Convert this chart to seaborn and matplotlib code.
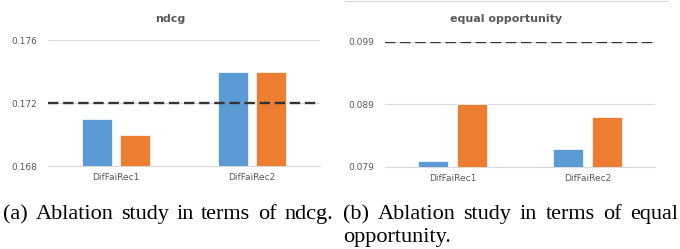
import pandas as pd
import matplotlib.pyplot as plt
import seaborn as sns

# values
models = ["DifFaiRec1", "DifFaiRec2"]
variants = ["variant 1", "variant 2"]
ndcg_v1 = [0.171, 0.174]
ndcg_v2 = [0.170, 0.174]
ndcg_ref = 0.172
eo_v1 = [0.0799, 0.0819]
eo_v2 = [0.089, 0.087]
eo_ref = 0.099
ndcg_ticks = [0.168, 0.172, 0.176]
eo_ticks = [0.079, 0.089, 0.099]

colors = ["#5B9BD5", "#ED7D31"]
grey = "#595959"

df_ndcg = pd.DataFrame({
    "model": models * 2,
    "variant": [variants[0]] * 2 + [variants[1]] * 2,
    "value": ndcg_v1 + ndcg_v2,
})
df_eo = pd.DataFrame({
    "model": models * 2,
    "variant": [variants[0]] * 2 + [variants[1]] * 2,
    "value": eo_v1 + eo_v2,
})

sns.set_style("white")
fig = plt.figure(figsize=(6.8, 2.49), dpi=100)
ax1 = fig.add_axes([48 / 680, 83 / 249, 272 / 680, 126 / 249])
ax2 = fig.add_axes([385 / 680, 82.3 / 249, 270 / 680, 125 / 249])


def draw(ax, df, ref, ticks):
    sns.barplot(data=df, x="model", y="value", hue="variant", palette=colors,
                saturation=1, width=0.57, gap=0.22, ax=ax, legend=False,
                edgecolor="white", linewidth=0.5, zorder=3)
    ax.axhline(ref, color="#333333", lw=1.7, dashes=(4.4, 2.0), zorder=4)
    ax.set_ylim(ticks[0], ticks[-1])
    ax.set_yticks(ticks)
    ax.set_yticklabels([f"{t:.3f}" for t in ticks])
    ax.grid(axis="y", color="#D9D9D9", lw=0.8, zorder=0)
    ax.set_axisbelow(True)
    ax.set_xlabel("")
    ax.set_ylabel("")
    for s in ["top", "right", "left"]:
        ax.spines[s].set_visible(False)
    ax.spines["bottom"].set_color("#D9D9D9")
    ax.spines["bottom"].set_linewidth(0.8)
    ax.tick_params(axis="both", length=0, labelsize=6.5, labelcolor=grey)
    ax.tick_params(axis="y", pad=8)
    ax.tick_params(axis="x", pad=5)


draw(ax1, df_ndcg, ndcg_ref, ndcg_ticks)
draw(ax2, df_eo, eo_ref, eo_ticks)

# chart titles (centered over each chart area, like excel does)
fig.text(170 / 680, 1 - 18.5 / 249, "ndcg", ha="center", va="center",
         fontsize=8, fontweight="bold", color=grey)
fig.text(506 / 680, 1 - 19 / 249, "equal opportunity", ha="center", va="center",
         fontsize=8, fontweight="bold", color=grey)

# thin frame line on top of the right chart
fig.add_artist(plt.Line2D([345 / 680, 668 / 680], [1 - 1.5 / 249] * 2,
                          color="#D9D9D9", lw=0.8))

# captions, justified between x0 and x1 (pixels)
cap = dict(fontsize=16, family="Liberation Serif", color="black", va="baseline")
renderer = fig.canvas.get_renderer()


def justified(line, x0, x1, y):
    words = line.split()
    texts = [fig.text(0, 1 - y / 249, w, **cap) for w in words]
    widths = [t.get_window_extent(renderer).width for t in texts]
    space = (x1 - x0 - sum(widths)) / (len(words) - 1)
    x = x0
    for t, w in zip(texts, widths):
        t.set_x(x / 680)
        x += w + space


justified("(a) Ablation study in terms of ndcg.", 3, 333, 219)
justified("(b) Ablation study in terms of equal", 343, 678, 219)
fig.text(343 / 680, 1 - 241.5 / 249, "opportunity.", **cap)

plt.savefig("out.png", dpi=100)
